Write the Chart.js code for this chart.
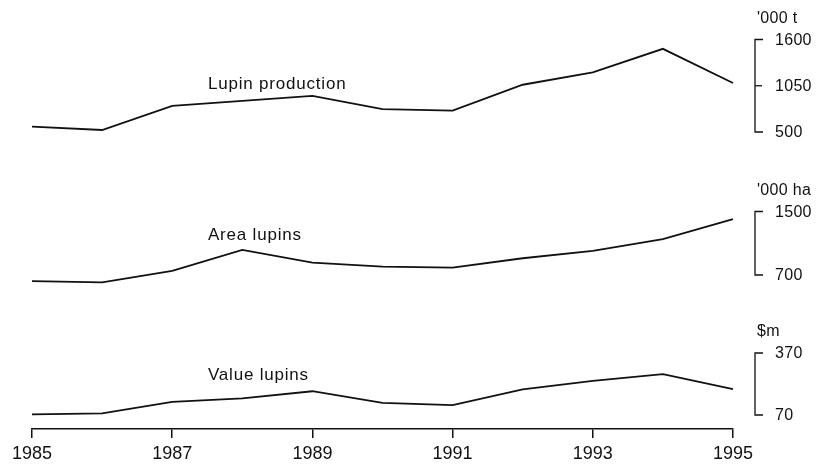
<!DOCTYPE html>
<html>
<head>
<meta charset="utf-8">
<script src="https://cdn.jsdelivr.net/npm/chart.js@4/dist/chart.umd.min.js"></script>
<style>
  html, body { margin: 0; padding: 0; background: #fff; }
  #wrap { width: 823px; height: 466px; }
</style>
</head>
<body>
<div id="wrap"><canvas id="chart" width="823" height="466"></canvas></div>
<script>
// Data
const years = ['1985', '1986', '1987', '1988', '1989', '1990', '1991', '1992', '1993', '1994', '1995'];
const labeledYears = ['1985', '1987', '1989', '1991', '1993', '1995'];
const production = [563, 524, 811, 871, 930, 772, 755, 1062, 1209, 1489, 1083]; // '000 t
const area = [624, 608, 751, 1016, 856, 805, 792, 911, 1003, 1151, 1404];        // '000 ha
const value = [73, 78, 134, 150, 185, 129, 118, 194, 235, 268, 195];             // $m
const productionTicks = [500, 1050, 1600];
const areaTicks = [700, 1500];
const valueTicks = [70, 370];
const units = ["'000 t", "'000 ha", '$m'];
const seriesNames = ['Lupin production', 'Area lupins', 'Value lupins'];

const FONT = "'Liberation Sans', Arial, Helvetica, sans-serif";
const INK = '#111';

// Chart area edges (top from padding, bottom from fixed x axis height)
const TOP = 10;
const X_AXIS_HEIGHT = 37;
const BOTTOM = 466 - X_AXIS_HEIGHT;

// Each series gets its own band of the plot; work out a full-height range
// so that lo..hi lands between yLo and yHi pixels
const bandRange = (lo, hi, yHi, yLo) => {
  const k = (yLo - yHi) / (hi - lo);
  return { min: lo - (BOTTOM - yLo) / k, max: hi + (yHi - TOP) / k };
};

const prodRange = bandRange(500, 1600, 39.5, 132);
const areaRange = bandRange(700, 1500, 211.5, 275);
const valueRange = bandRange(70, 370, 353, 415);

const axes = [
  { id: 'yProd', ticks: productionTicks, unit: units[0], name: seriesNames[0], nameAt: [2.51, 1071] },
  { id: 'yArea', ticks: areaTicks, unit: units[1], name: seriesNames[1], nameAt: [2.51, 1197] },
  { id: 'yVal', ticks: valueTicks, unit: units[2], name: seriesNames[2], nameAt: [2.51, 261] },
];

// Brackets, tick labels, unit titles and series names
const annotations = {
  id: 'annotations',
  afterDraw(chart) {
    const { ctx, chartArea } = chart;
    const xs = chart.scales.x;
    const bx = chartArea.right + 22;
    ctx.save();
    ctx.strokeStyle = INK;
    ctx.fillStyle = INK;
    ctx.lineWidth = 1.3;
    ctx.textBaseline = 'middle';
    for (const ax of axes) {
      const sc = chart.scales[ax.id];
      const lo = ax.ticks[0];
      const hi = ax.ticks[ax.ticks.length - 1];
      const yTop = sc.getPixelForValue(hi);
      const yBot = sc.getPixelForValue(lo);
      ctx.beginPath();
      ctx.moveTo(bx + 8, yTop);
      ctx.lineTo(bx, yTop);
      ctx.lineTo(bx, yBot);
      ctx.lineTo(bx + 8, yBot);
      ctx.stroke();
      ctx.font = `16px ${FONT}`;
      ctx.letterSpacing = '0.3px';
      ctx.textAlign = 'left';
      for (const t of ax.ticks) {
        const y = sc.getPixelForValue(t);
        if (t !== lo && t !== hi) {
          ctx.beginPath();
          ctx.moveTo(bx, y);
          ctx.lineTo(bx + 7, y);
          ctx.stroke();
        }
        ctx.fillText(String(t), bx + 20, y + 1);
      }
      ctx.fillText(ax.unit, bx + 2, yTop - 21);
      ctx.font = `17px ${FONT}`;
      ctx.letterSpacing = '0.8px';
      ctx.fillText(ax.name, xs.getPixelForValue(ax.nameAt[0]), sc.getPixelForValue(ax.nameAt[1]));
    }
    ctx.restore();
  }
};

const lineStyle = {
  borderColor: INK,
  borderWidth: 1.8,
  pointRadius: 0,
  tension: 0,
  fill: false,
};

new Chart(document.getElementById('chart').getContext('2d'), {
  type: 'line',
  data: {
    labels: years,
    datasets: [
      { ...lineStyle, label: seriesNames[0], data: production, yAxisID: 'yProd' },
      { ...lineStyle, label: seriesNames[1], data: area, yAxisID: 'yArea' },
      { ...lineStyle, label: seriesNames[2], data: value, yAxisID: 'yVal' },
    ]
  },
  options: {
    responsive: false,
    animation: false,
    layout: { padding: { left: 32, right: 90, top: TOP, bottom: 0 } },
    plugins: { legend: { display: false }, tooltip: { enabled: false } },
    scales: {
      x: {
        type: 'category',
        offset: false,
        afterFit: (scale) => { scale.height = X_AXIS_HEIGHT; },
        grid: {
          display: true,
          drawOnChartArea: false,
          drawTicks: true,
          tickLength: 9,
          lineWidth: 1.5,
          color: (c) => labeledYears.includes(years[c.index]) ? INK : 'rgba(0,0,0,0)',
        },
        border: { display: true, color: INK, width: 1.6 },
        ticks: {
          autoSkip: false,
          maxRotation: 0,
          padding: 7,
          color: INK,
          font: { size: 18, family: FONT, lineHeight: 1 },
          callback: (v, i) => labeledYears.includes(years[i]) ? years[i] : '',
        },
      },
      yProd: { display: false, min: prodRange.min, max: prodRange.max },
      yArea: { display: false, min: areaRange.min, max: areaRange.max },
      yVal: { display: false, min: valueRange.min, max: valueRange.max },
    },
  },
  plugins: [annotations],
});
</script>
</body>
</html>
